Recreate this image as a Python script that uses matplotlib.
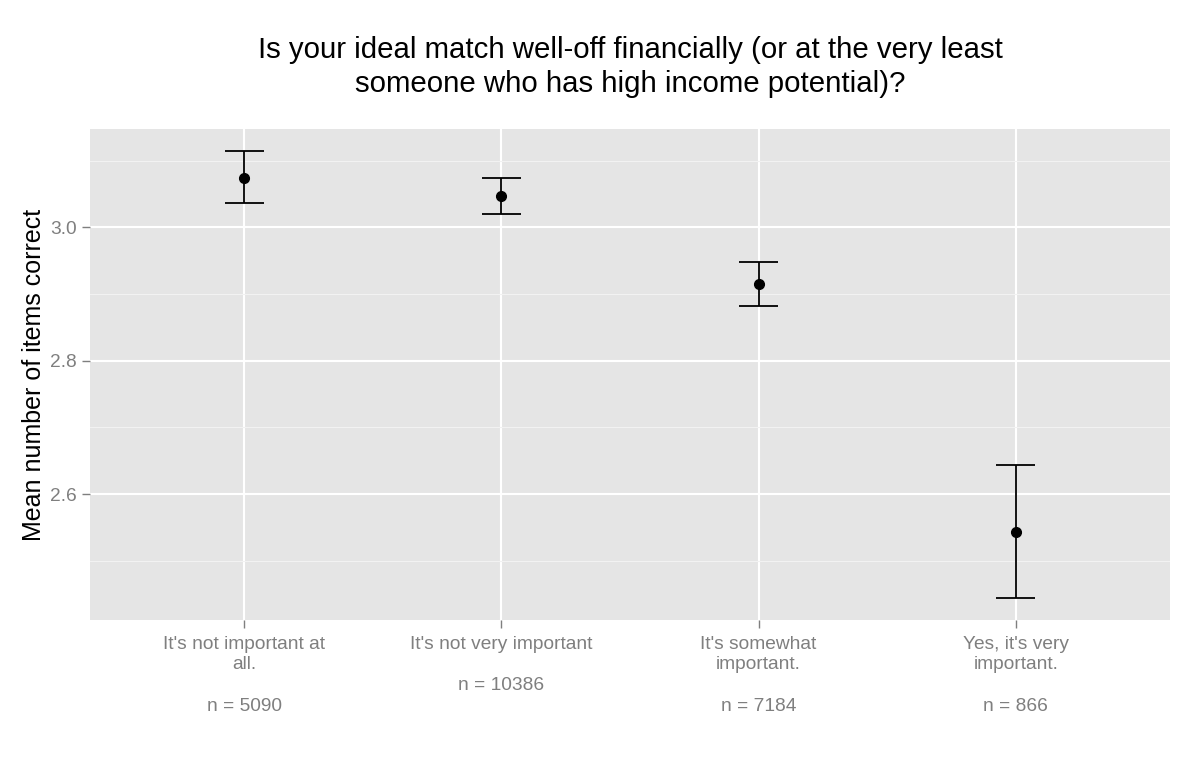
import matplotlib
matplotlib.use("Agg")
import matplotlib.pyplot as plt
import numpy as np

# Data
categories = ["It's not important at\nall.", "It's not very important",
              "It's somewhat\nimportant.", "Yes, it's very\nimportant."]
counts = [5090, 10386, 7184, 866]
means = [3.074, 3.047, 2.915, 2.5435]
lower = [3.037, 3.0205, 2.882, 2.4434]
upper = [3.114, 3.0735, 2.948, 2.644]

plt.rcParams['font.family'] = ['Liberation Sans', 'DejaVu Sans']

fig = plt.figure(figsize=(12, 7.63), dpi=100)
ax = fig.add_axes([0.075, 0.1874, 0.9, 0.6431])

# ggplot-like panel
ax.set_facecolor('#E5E5E5')
for s in ax.spines.values():
    s.set_visible(False)
ax.set_axisbelow(True)

x = np.arange(1, len(categories) + 1)
ax.set_xlim(0.4, 4.6)
ax.set_ylim(2.411, 3.147)

ax.set_yticks([2.6, 2.8, 3.0])
ax.set_yticks([2.5, 2.7, 2.9, 3.1], minor=True)
ax.set_xticks(x)
ax.grid(True, which='major', color='white', linewidth=1.5)
ax.grid(True, which='minor', axis='y', color='#F2F2F2', linewidth=0.8)

# Error bars with caps, then points
cap = 0.075
ax.vlines(x, lower, upper, color='black', linewidth=1.3, zorder=3)
ax.hlines(lower, x - cap, x + cap, color='black', linewidth=1.3, zorder=3)
ax.hlines(upper, x - cap, x + cap, color='black', linewidth=1.3, zorder=3)
ax.plot(x, means, 'o', color='black', markersize=7, zorder=4)

labels = [f"{c}\n\nn = {n}" for c, n in zip(categories, counts)]
ax.set_xticklabels(labels, fontsize=13.8, color='#7F7F7F', linespacing=1.27)
ax.set_yticklabels(['2.6', '2.8', '3.0'], fontsize=13.8, color='#7F7F7F')
ax.tick_params(axis='both', which='major', color='#7F7F7F', length=5.5, width=1, pad=4)
ax.tick_params(axis='x', which='major', pad=6)
ax.tick_params(axis='y', which='minor', length=0)

ax.set_ylabel("Mean number of items correct", fontsize=18, color='black', labelpad=3)

# Title, two lines placed by their baselines
title_lines = ["Is your ideal match well-off financially (or at the very least",
               "someone who has high income potential)?"]
fig.text(0.5255, 1 - 58.3 / 763, title_lines[0], ha='center', va='baseline', fontsize=21.2)
fig.text(0.5255, 1 - 91.7 / 763, title_lines[1], ha='center', va='baseline', fontsize=21.2)

fig.savefig("out.png", dpi=100)
